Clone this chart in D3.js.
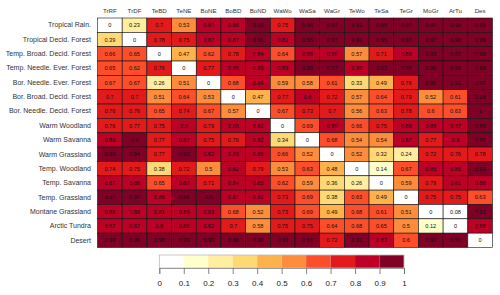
<!DOCTYPE html>
<html>
<head>
<meta charset="utf-8">
<script src="https://cdn.jsdelivr.net/npm/d3@7"></script>
<style>
  body { margin: 0; background: #fff; }
  svg { display: block; font-family: "Liberation Sans", Arial, sans-serif; }
</style>
</head>
<body>
<div id="chart"></div>
<script>
const rowLabels = [
    "Tropical Rain.", "Tropical Decid. Forest", "Temp. Broad. Decid. Forest",
    "Temp. Needle. Ever. Forest", "Bor. Needle. Ever. Forest", "Bor. Broad. Decid. Forest",
    "Bor. Needle. Decid. Forest", "Warm Woodland", "Warm Savanna", "Warm Grassland",
    "Temp. Woodland", "Temp. Savanna", "Temp. Grassland", "Montane Grassland",
    "Arctic Tundra", "Desert"
];
const colLabels = ["TrRF", "TrDF", "TeBD", "TeNE", "BoNE", "BoBD", "BoND", "WaWo",
    "WaSa", "WaGr", "TeWo", "TeSa", "TeGr", "MoGr", "ArTu", "Des"];

const values = [
    [0, 0.23, 0.7, 0.53, 0.87, 0.88, 0.92, 0.75, 0.95, 0.97, 0.91, 0.95, 0.97, 0.97, 0.96, 0.99],
    [0.39, 0, 0.78, 0.75, 0.87, 0.87, 0.91, 0.81, 0.95, 0.97, 0.91, 0.95, 0.97, 0.97, 0.96, 0.99],
    [0.66, 0.65, 0, 0.47, 0.62, 0.78, 0.84, 0.64, 0.88, 0.86, 0.57, 0.71, 0.89, 0.93, 0.92, 0.98],
    [0.65, 0.62, 0.76, 0, 0.77, 0.85, 0.89, 0.89, 0.95, 0.97, 0.88, 0.93, 0.96, 0.96, 0.96, 0.99],
    [0.67, 0.67, 0.26, 0.51, 0, 0.68, 0.86, 0.59, 0.58, 0.61, 0.33, 0.49, 0.76, 0.91, 0.93, 0.97],
    [0.7, 0.7, 0.51, 0.64, 0.53, 0, 0.47, 0.77, 0.8, 0.72, 0.57, 0.64, 0.79, 0.52, 0.61, 0.98],
    [0.76, 0.76, 0.65, 0.74, 0.67, 0.57, 0, 0.67, 0.73, 0.7, 0.56, 0.63, 0.78, 0.6, 0.63, 1],
    [0.76, 0.77, 0.75, 0.8, 0.79, 0.88, 0.82, 0, 0.69, 0.85, 0.66, 0.75, 0.89, 0.88, 0.87, 0.99],
    [0.89, 0.9, 0.77, 0.87, 0.75, 0.79, 0.82, 0.34, 0, 0.68, 0.54, 0.54, 0.87, 0.77, 0.8, 0.98],
    [0.93, 0.94, 0.77, 0.93, 0.82, 0.83, 0.85, 0.66, 0.52, 0, 0.52, 0.32, 0.24, 0.72, 0.76, 0.78],
    [0.74, 0.75, 0.38, 0.72, 0.5, 0.82, 0.79, 0.53, 0.63, 0.48, 0, 0.14, 0.67, 0.85, 0.85, 0.93],
    [0.87, 0.88, 0.65, 0.87, 0.71, 0.84, 0.85, 0.62, 0.59, 0.36, 0.26, 0, 0.59, 0.79, 0.81, 0.88],
    [0.97, 0.97, 0.86, 0.96, 0.9, 0.87, 0.82, 0.73, 0.69, 0.38, 0.63, 0.49, 0, 0.75, 0.75, 0.63],
    [0.88, 0.89, 0.81, 0.89, 0.83, 0.68, 0.52, 0.73, 0.69, 0.49, 0.68, 0.61, 0.51, 0, 0.08, 0.91],
    [0.87, 0.87, 0.8, 0.88, 0.82, 0.7, 0.58, 0.75, 0.75, 0.64, 0.68, 0.65, 0.5, 0.12, 0, 0.88],
    [0.99, 0.99, 0.98, 0.99, 0.99, 0.96, 0.99, 0.93, 0.91, 0.72, 0.91, 0.83, 0.6, 0.93, 0.91, 0]
];

const legendBreaks = [0, 0.1, 0.2, 0.3, 0.4, 0.5, 0.6, 0.7, 0.8, 0.9, 1];
const binColors = ["#ffffff", "#ffffcc", "#ffeda0", "#fed976", "#feb24c",
    "#fd8d3c", "#fc4e2a", "#e31a1c", "#bd0026", "#800026"];

const width = 500;
const height = 295;

const svg = d3.select("#chart")
    .append("svg")
    .attr("width", width)
    .attr("height", height);

const xScale = d3.scaleBand()
    .domain(colLabels)
    .range([97.5, 492.5]);

const yScale = d3.scaleBand()
    .domain(rowLabels)
    .range([18, 247.5]);

const colorScale = d3.scaleThreshold()
    .domain(legendBreaks.slice(1, -1))
    .range(binColors);

const cells = [];
values.forEach((row, i) => {
    row.forEach((v, j) => {
        cells.push({ row: rowLabels[i], col: colLabels[j], value: v });
    });
});

svg.selectAll(".cell")
    .data(cells)
    .enter()
    .append("rect")
    .attr("class", "cell")
    .attr("x", d => xScale(d.col))
    .attr("y", d => yScale(d.row))
    .attr("width", xScale.bandwidth())
    .attr("height", yScale.bandwidth())
    .attr("fill", d => colorScale(d.value))
    .attr("stroke", "#111")
    .attr("stroke-width", 0.6);

svg.selectAll(".val")
    .data(cells)
    .enter()
    .append("text")
    .attr("class", "val")
    .attr("x", d => xScale(d.col) + xScale.bandwidth() / 2)
    .attr("y", d => yScale(d.row) + yScale.bandwidth() / 2 + 2)
    .attr("text-anchor", "middle")
    .attr("font-size", "5.6px")
    .attr("fill", "#111")
    .text(d => String(d.value));

// column labels
const topAxis = svg.append("g")
    .attr("transform", "translate(0,13)")
    .call(d3.axisTop(xScale).tickSize(0).tickPadding(0));
topAxis.select(".domain").remove();
topAxis.selectAll("text")
    .attr("font-size", "6.2px")
    .attr("font-family", "Liberation Sans, Arial, sans-serif")
    .attr("fill", "#333");

// row labels
const leftAxis = svg.append("g")
    .attr("transform", "translate(91,0)")
    .call(d3.axisLeft(yScale).tickSize(0).tickPadding(0));
leftAxis.select(".domain").remove();
leftAxis.selectAll("text")
    .attr("font-size", "7px")
    .attr("font-family", "Liberation Sans, Arial, sans-serif")
    .attr("fill", "#333");

// legend
const legendScale = d3.scaleLinear()
    .domain([0, 1])
    .range([159.3, 404]);
const legendTop = 255;
const legendH = 13;

const bins = d3.pairs(legendBreaks);
svg.selectAll(".bin")
    .data(bins)
    .enter()
    .append("rect")
    .attr("class", "bin")
    .attr("x", d => legendScale(d[0]))
    .attr("y", legendTop)
    .attr("width", d => legendScale(d[1]) - legendScale(d[0]))
    .attr("height", legendH)
    .attr("fill", d => colorScale(d[0]));

svg.append("rect")
    .attr("x", legendScale(0))
    .attr("y", legendTop)
    .attr("width", legendScale(1) - legendScale(0))
    .attr("height", legendH)
    .attr("fill", "none")
    .attr("stroke", "#bbb")
    .attr("stroke-width", 0.8);

const legendAxis = svg.append("g")
    .attr("transform", `translate(0,${legendTop + legendH})`)
    .call(d3.axisBottom(legendScale)
        .tickValues(legendBreaks)
        .tickFormat(d => String(d))
        .tickSize(6)
        .tickPadding(6));
legendAxis.select(".domain").attr("stroke", "#888").attr("stroke-width", 0.8);
legendAxis.selectAll("line").attr("stroke", "#666").attr("stroke-width", 0.8);
legendAxis.selectAll("text")
    .attr("font-size", "8px")
    .attr("font-family", "Liberation Sans, Arial, sans-serif")
    .attr("fill", "#222");
</script>
</body>
</html>
